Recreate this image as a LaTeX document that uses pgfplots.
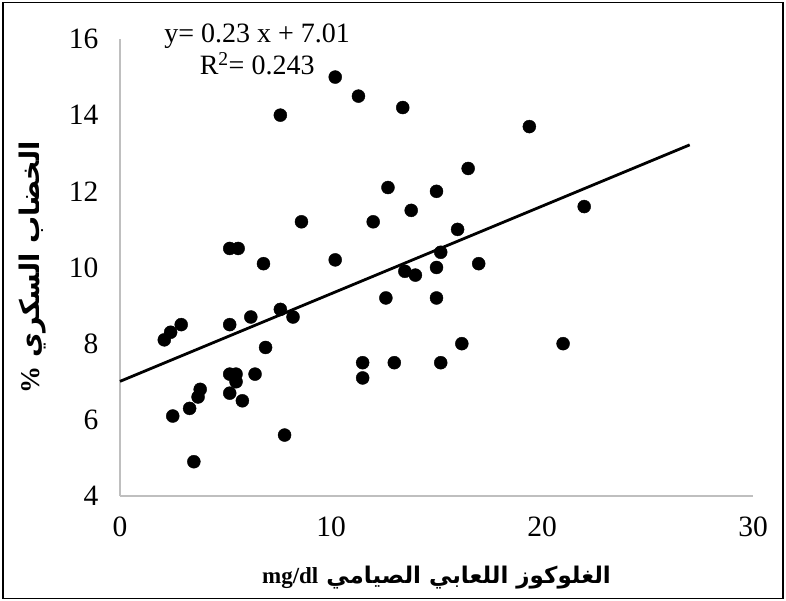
\documentclass[border=0pt]{standalone}
\usepackage{pgfplots}
\pgfplotsset{compat=1.18}
\usepackage{fontspec}
\setmainfont{Liberation Serif}
\newfontfamily\arabicfont[Script=Arabic]{DejaVu Sans}
\TeXXeTstate=1

\begin{document}
\begin{tikzpicture}
\begin{axis}[
    name=ax,
    scale only axis,
    width=633pt, height=457pt,
    xmin=0, xmax=30, ymin=4, ymax=16,
    axis x line*=bottom, axis y line*=left,
    axis line style={draw=black!25, line width=1.2pt, -},
    xtick={0,10,20,30}, ytick={4,6,...,16},
    major tick length=0pt,
    clip=false,
    /pgf/number format/assume math mode=true,
    ticklabel style={font=\fontsize{29.5}{33}\selectfont},
    yticklabel style={xshift=-18pt},
    xticklabel style={yshift=-17pt},
    xlabel={\arabicfont\bfseries\beginR الغلوكوز اللعابي الصيامي \beginL\rmfamily mg/dl\endL\endR},
    ylabel={\arabicfont\bfseries\beginR الخضاب السكري {\rmfamily\%}\endR},
    xlabel style={at={(axis description cs:0.5,-0.178)}, anchor=center,
        font=\fontsize{23}{26}\selectfont},
    ylabel style={at={(axis description cs:-0.1375,0.5)}, anchor=center,
        font=\fontsize{27}{30}\selectfont},
]
% HbA1c against fasting salivary glucose
\addplot[only marks, mark=*, mark size=6.5pt, black] coordinates {
    (10.2,15.0) (7.6,14.0) (8.6,11.2) (5.2,10.5) (5.6,10.5)
    (6.8,10.1) (10.2,10.2) (11.3,14.5) (13.4,14.2) (19.4,13.7)
    (16.5,12.6) (12.7,12.1) (15.0,12.0) (13.8,11.5) (12.0,11.2)
    (16.0,11.0) (15.2,10.4) (17.0,10.1) (13.5,9.9) (14.0,9.8)
    (15.0,10.0) (12.6,9.2) (15.0,9.2) (22.0,11.6) (2.1,8.1)
    (2.4,8.3) (2.9,8.5) (5.2,8.5) (6.2,8.7) (7.6,8.9)
    (8.2,8.7) (6.9,7.9) (5.2,7.2) (5.5,7.2) (5.5,7.0)
    (6.4,7.2) (3.8,6.8) (3.7,6.6) (5.2,6.7) (5.8,6.5)
    (3.3,6.3) (2.5,6.1) (7.8,5.6) (3.5,4.9) (16.2,8.0)
    (11.5,7.5) (11.5,7.1) (13.0,7.5) (15.2,7.5) (21.0,8.0)
};
% linear trend
\addplot[black, line width=2.8pt] coordinates {(0,7.01) (27,13.22)};
\node[anchor=base, font=\fontsize{28}{32}\selectfont] at (axis cs:6.5,15.9) {y= 0.23 x + 7.01};
\node[anchor=base, font=\fontsize{28}{32}\selectfont] at (axis cs:6.5,15.08) {R\textsuperscript{2}= 0.243};
\end{axis}
\draw[black, line width=1.5pt] ([xshift=-117pt,yshift=-102.5pt]ax.south west)
    rectangle ([xshift=30pt,yshift=36.5pt]ax.north east);
\pgfresetboundingbox
\useasboundingbox ([xshift=-120pt,yshift=-105pt]ax.south west)
    rectangle ([xshift=33pt,yshift=39pt]ax.north east);
\end{tikzpicture}
\end{document}
